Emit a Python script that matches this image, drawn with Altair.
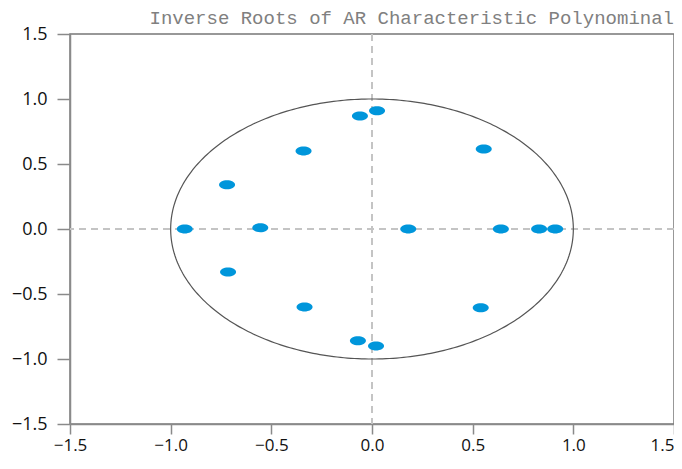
import altair as alt
import numpy as np
import pandas as pd

# Inverse roots (real, imaginary)
root_re = [-0.93, -0.555, 0.18, 0.64, 0.83, 0.91, -0.72, -0.715, -0.34, -0.335,
           -0.06, 0.025, -0.07, 0.02, 0.555, 0.54]
root_im = [0.0, 0.01, 0.0, 0.0, 0.0, 0.0, 0.34, -0.33, 0.60, -0.60,
           0.87, 0.91, -0.86, -0.90, 0.615, -0.605]

ticks = [-1.5, -1.0, -0.5, 0.0, 0.5, 1.0, 1.5]
title_text = "Inverse Roots of AR Characteristic Polynominal"

roots = pd.DataFrame({"re": root_re, "im": root_im})

# unit circle reference
ang = np.linspace(0, 2 * np.pi, 361)
circle = pd.DataFrame({"re": np.cos(ang), "im": np.sin(ang), "o": np.arange(len(ang))})

xs = alt.Scale(domain=[-1.5, 1.5], nice=False, zero=False)
ys = alt.Scale(domain=[-1.5, 1.5], nice=False, zero=False)

xax = alt.Axis(
    values=ticks, format=".1f", title=None, grid=False,
    labelAlign={"condition": {"test": "datum.value >= 1.5", "value": "right"}, "value": "center"},
)
yax = alt.Axis(values=ticks, format=".1f", title=None, grid=False)

vrule = alt.Chart(pd.DataFrame({"v": [0.0]})).mark_rule(
    color="#c4c4c4", strokeWidth=2, strokeDash=[7, 5]
).encode(x=alt.X("v:Q", scale=xs, axis=xax))

hrule = alt.Chart(pd.DataFrame({"v": [0.0]})).mark_rule(
    color="#c4c4c4", strokeWidth=2, strokeDash=[7, 5]
).encode(y=alt.Y("v:Q", scale=ys, axis=yax))

circ = alt.Chart(circle).mark_line(color="#555555", strokeWidth=1.2).encode(
    x=alt.X("re:Q", scale=xs, axis=xax),
    y=alt.Y("im:Q", scale=ys, axis=yax),
    order="o:Q",
)

ellipse = "M -1 0 A 1 0.56 0 1 0 1 0 A 1 0.56 0 1 0 -1 0 Z"
pts = alt.Chart(roots).mark_point(
    shape=ellipse, filled=True, size=256, color="#0096db", opacity=1
).encode(
    x=alt.X("re:Q", scale=xs, axis=xax),
    y=alt.Y("im:Q", scale=ys, axis=yax),
)

chart = alt.layer(vrule, hrule, circ, pts).properties(
    width=604,
    height=390,
    autosize=alt.AutoSizeParams(type="none"),
    padding={"left": 62, "top": 26, "right": 0, "bottom": 34},
    title=alt.TitleParams(
        text=title_text,
        anchor="end",
        frame="group",
        font="Liberation Mono",
        fontSize=19,
        fontWeight="normal",
        color="#808080",
        offset=-3,
    ),
).configure_view(
    stroke="#777777", strokeWidth=1.5
).configure_axis(
    domainColor="#8a8a8a",
    domainWidth=1.5,
    tickColor="#8a8a8a",
    tickWidth=1.5,
    labelFont="Open Sans",
    labelFontSize=18,
    labelColor="#111111",
).configure_axisX(
    tickSize=10, labelPadding=3, labelFontSize=17
).configure_axisY(
    tickSize=13, labelPadding=10
)

chart.save("out.html", embed_options={"renderer": "svg", "actions": False})
